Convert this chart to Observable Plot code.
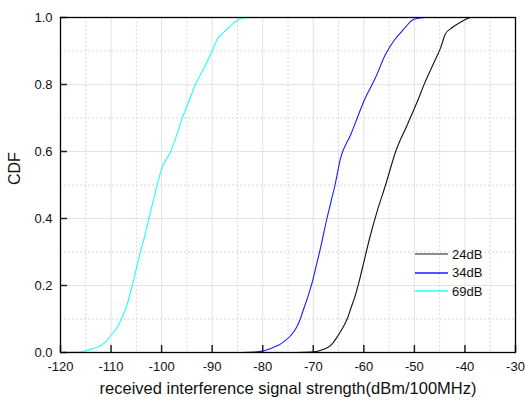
<!DOCTYPE html>
<html>
<head>
<meta charset="utf-8">
<script src="https://cdn.jsdelivr.net/npm/d3@7"></script>
<script src="https://cdn.jsdelivr.net/npm/@observablehq/plot@0.6"></script>
<style>
  body { margin: 0; background: #fff; font-family: "Liberation Sans", Arial, sans-serif; }
  #wrap { position: relative; width: 525px; height: 401px; }
  #legend { position: absolute; left: 415px; top: 245px; font: 13px "Liberation Sans", Arial, sans-serif; color: #111; }
  #legend .row { display: flex; align-items: center; height: 18.5px; }
  #legend svg { margin-right: 4px; }
</style>
</head>
<body>
<div id="wrap"></div>
<script>
// Series (x: dBm/100MHz, y: CDF)
const s24x = [-73.5, -70.6, -67.6, -66.3, -65.3, -64.3, -63.3, -62.5, -61.7, -60.8, -60.0, -58.7, -57.4, -55.7, -53.7, -51.4, -49.4, -47.8, -46.3, -44.8, -43.9, -42.5, -40.9, -39.9, -38.9];
const s24y = [0, 0.001, 0.011, 0.025, 0.046, 0.07, 0.10, 0.135, 0.17, 0.22, 0.27, 0.35, 0.42, 0.50, 0.60, 0.68, 0.75, 0.81, 0.86, 0.91, 0.95, 0.97, 0.986, 0.994, 1.0];

const s34x = [-84.2, -82, -80.1, -77.8, -76.5, -75.5, -74.5, -73.5, -72.7, -71.9, -71, -70.2, -69.4, -68.6, -67.3, -66.5, -65.7, -64.6, -62.6, -61.3, -60.0, -57.7, -55.7, -54.1, -52.1, -50.1, -47.8];
const s34y = [0, 0.001, 0.004, 0.016, 0.025, 0.036, 0.05, 0.07, 0.095, 0.13, 0.17, 0.21, 0.26, 0.31, 0.40, 0.45, 0.50, 0.58, 0.65, 0.70, 0.75, 0.82, 0.89, 0.93, 0.965, 0.995, 1.0];

const s69x = [-120, -117, -115.5, -114.7, -113.5, -112.1, -111, -110.1, -109, -108.1, -107, -105.8, -105, -104.2, -103.3, -102.5, -101.7, -100.9, -99.9, -98.2, -97, -95.9, -94.6, -93.3, -91.6, -90.0, -89.0, -87.4, -86.3, -85.4, -84.3, -83.1];
const s69y = [0, 0.001, 0.003, 0.006, 0.012, 0.02, 0.033, 0.05, 0.07, 0.095, 0.135, 0.2, 0.25, 0.30, 0.35, 0.40, 0.45, 0.50, 0.552, 0.60, 0.65, 0.70, 0.75, 0.80, 0.85, 0.90, 0.935, 0.96, 0.975, 0.988, 0.997, 1.0];

const seriesNames = ["24dB", "34dB", "69dB"];
const seriesColors = ["#111111", "#1a1aff", "#22ffff"];

const xTicks = [-120, -110, -100, -90, -80, -70, -60, -50, -40, -30];
const xMinor = [-115, -105, -95, -85, -75, -65, -55, -45, -35];
const yTicks = [0, 0.2, 0.4, 0.6, 0.8, 1.0];
const yMinor = [0.1, 0.3, 0.5, 0.7, 0.9];

const xLabel = "received interference signal strength(dBm/100MHz)";
const yLabel = "CDF";

const toRows = (xs, ys, name) => xs.map((x, i) => ({x, y: ys[i], series: name}));
const data = [
  ...toRows(s24x, s24y, seriesNames[0]),
  ...toRows(s34x, s34y, seriesNames[1]),
  ...toRows(s69x, s69y, seriesNames[2])
];

const chart = Plot.plot({
  width: 525,
  height: 401,
  marginLeft: 60,
  marginRight: 10,
  marginTop: 17,
  marginBottom: 49,
  style: {fontFamily: "Liberation Sans, Arial, sans-serif", fontSize: "13px", color: "#111", background: "#fff", overflow: "visible"},
  x: {domain: [-120, -30]},
  y: {domain: [0, 1]},
  color: {domain: seriesNames, range: seriesColors},
  marks: [
    Plot.gridX(xMinor, {stroke: "#d8d8d8", strokeOpacity: 1, strokeDasharray: "2,2"}),
    Plot.gridY(yMinor, {stroke: "#d8d8d8", strokeOpacity: 1, strokeDasharray: "2,2"}),
    Plot.gridX(xTicks, {stroke: "#e2e2e2", strokeOpacity: 1}),
    Plot.gridY(yTicks, {stroke: "#e2e2e2", strokeOpacity: 1}),
    Plot.line(data, {x: "x", y: "y", z: "series", stroke: "series", strokeWidth: 1.1, curve: "monotone-x"}),
    Plot.tickX(xTicks, {x: d => d, insetTop: 328, stroke: "#222", strokeWidth: 1.5}),
    Plot.tickY(yTicks, {y: d => d, insetRight: 448, stroke: "#222", strokeWidth: 1.5}),
    Plot.frame({stroke: "#000", strokeWidth: 1.3}),
    Plot.axisX(xTicks, {tickSize: 0, tickPadding: 9, fontSize: 13, label: null, tickFormat: d => String(d)}),
    Plot.axisY(yTicks, {tickSize: 0, tickPadding: 8, fontSize: 13, label: null, tickFormat: d3.format(".1f")}),
    Plot.text([xLabel], {text: d => d, frameAnchor: "bottom", dy: 41, fontSize: 16.5, fill: "#111"}),
    Plot.text([yLabel], {text: d => d, frameAnchor: "left", dx: -46, rotate: -90, fontSize: 16, fill: "#111"})
  ]
});

const wrap = document.getElementById("wrap");
wrap.appendChild(chart);

// Legend
const legend = document.createElement("div");
legend.id = "legend";
seriesNames.forEach((name, i) => {
  const row = document.createElement("div");
  row.className = "row";
  row.innerHTML = `<svg width="33" height="4"><line x1="0" x2="33" y1="2" y2="2" stroke="${i === 0 ? '#666' : seriesColors[i]}" stroke-width="1.3"/></svg><span>${name}</span>`;
  legend.appendChild(row);
});
wrap.appendChild(legend);
</script>
</body>
</html>
